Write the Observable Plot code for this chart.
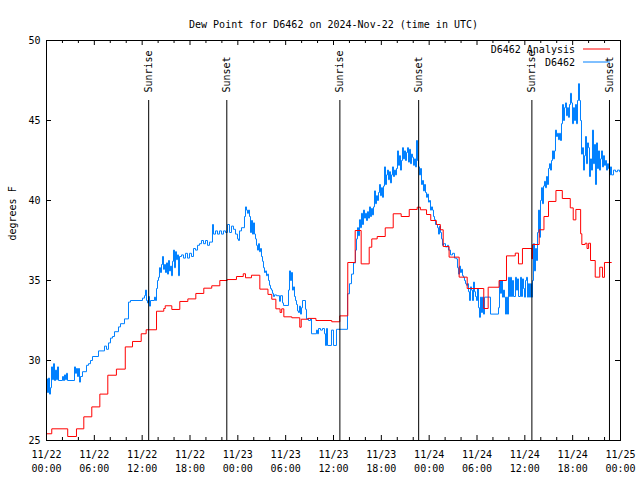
<!DOCTYPE html>
<html><head><meta charset="utf-8">
<script src="https://cdn.jsdelivr.net/npm/d3@7"></script>
<script src="https://cdn.jsdelivr.net/npm/@observablehq/plot@0.6"></script>
<style>
html,body{margin:0;padding:0;background:#fff;}
#chart{width:640px;height:480px;}
</style></head><body><div id="chart"></div>
<script>
const startTime = "2024-11-22T00:00:00Z";
const endTime = "2024-11-25T00:00:00Z";
const titleText = "Dew Point for D6462 on 2024-Nov-22 (time in UTC)";
const yLabelText = "degrees F";
const seriesNames = ["D6462 Analysis", "D6462"];
const seriesColors = ["#ff0000", "#0080ff"];
const yTicks = [25, 30, 35, 40, 45, 50];
const sunLabels = ["Sunrise", "Sunset", "Sunrise", "Sunset", "Sunrise", "Sunset"];
const sunTimes = ["2024-11-22T12:49:00Z", "2024-11-22T22:37:00Z", "2024-11-23T12:48:00Z",
  "2024-11-23T22:41:00Z", "2024-11-24T12:53:00Z", "2024-11-24T22:37:00Z"];

// Analysis (hours after start, deg F)
const analysisHours = [0, 0.66, 2.66, 3.76, 4.68, 5.68, 6.69, 7.69, 8.77, 9.88,
  10.79, 11.88, 12.5, 13.8, 14.71, 14.89, 15.72, 16.72, 17.73, 18.73,
  19.73, 20.73, 21.74, 22.66, 23.83, 24.68, 24.96, 25.71, 26.76, 27.78,
  28.26, 28.77, 29.3, 29.5, 29.77, 30.77, 31.77, 31.95, 32.8, 33.8,
  35.78, 36.79, 37.79, 38.72, 39.47, 40.48, 40.8, 41.48, 42.49, 43.49,
  44.49, 45.5, 46.5, 46.9, 47.67, 48.2, 48.9, 49.4, 49.76, 50.5,
  51.76, 52.77, 54.85, 55.4, 56.77, 57.7, 58.8, 59.2, 59.7, 60.88,
  60.96, 61.8, 62.4, 62.97, 63.9, 64.7, 65.7, 66.07, 66.4, 67.0,
  67.15, 67.57, 67.8, 68.0, 68.24, 68.83, 69.4, 69.74, 69.99, 70.87];
const analysisDew = [25.42, 25.73, 25.25, 25.73, 26.48, 27.1, 27.9, 29.08, 29.46, 30.85,
  31.19, 31.67, 31.92, 33.08, 33.25, 33.42, 33.19, 33.69, 33.85, 34.19,
  34.52, 34.67, 35.0, 35.06, 35.25, 35.42, 35.17, 35.33, 34.46, 34.13,
  33.83, 33.23, 33.0, 33.23, 32.73, 32.67, 32.08, 32.58, 32.63, 32.5,
  32.42, 32.79, 36.125, 38.125, 36.04, 37.08, 37.6, 37.75, 38.29, 39.17,
  39.0, 39.44, 39.58, 39.42, 39.125, 38.75, 38.5, 38.17, 37.125, 36.46,
  35.21, 34.5, 33.25, 34.58, 35.0, 36.54, 36.71, 36.04, 37.0, 36.35,
  37.25, 38.17, 39.0, 39.94, 40.625, 40.125, 39.54, 38.79, 39.44, 37.92,
  37.25, 37.33, 37.0, 37.33, 36.25, 35.21, 35.83, 35.2, 36.125, 36.125];

// Observations: report slot number on an ~7.5 minute reporting clock, deg F
const obsSlotMinutes = 7.526;
const obsSlots = [0,1,2,3,4,5,6,7,8,9,
  10,11,12,16,17,18,19,20,21,28,
  29,30,31,32,33,34,36,40,42,44,
  46,52,58,60,62,64,66,68,72,74,
  78,82,84,96,98,99,100,101,102,103,
  104,108,109,110,111,112,113,114,115,116,
  117,118,119,120,121,122,123,124,125,126,
  127,128,129,130,131,132,133,135,137,139,
  141,143,145,147,149,151,153,155,157,159,
  161,163,166,167,169,171,173,175,177,179,
  181,183,185,187,189,191,192,193,195,198,
  199,200,201,202,203,204,205,206,207,208,
  209,210,211,212,213,214,215,216,217,218,
  219,220,221,222,223,224,225,226,227,228,
  230,233,234,236,237,242,243,244,245,246,
  247,248,249,250,251,252,253,254,255,256,
  259,260,262,264,265,270,271,272,274,276,
  278,279,280,281,285,287,290,301,303,305,
  307,309,310,311,312,313,314,315,316,317,
  318,319,320,321,322,323,324,325,326,327,
  328,329,330,331,332,333,334,335,336,337,
  338,339,340,341,342,343,344,345,346,347,
  348,349,350,351,352,353,354,355,356,357,
  358,359,360,361,362,363,364,365,366,367,
  368,369,370,371,372,373,374,375,376,377,
  378,379,380,381,382,383,384,385,386,387,
  388,389,391,392,393,394,395,396,397,399,
  401,402,404,406,408,410,411,412,413,414,
  415,416,417,418,419,420,421,422,423,424,
  425,426,427,428,429,430,431,432,433,434,
  435,436,437,438,444,452,453,454,455,456,
  457,458,459,460,461,462,463,464,465,466,
  467,469,470,471,472,474,475,476,477,478,
  479,480,481,482,483,484,485,486,487,488,
  489,490,491,492,493,494,495,496,497,498,
  499,500,501,502,503,504,505,506,507,508,
  509,510,511,512,513,514,515,516,517,518,
  519,520,521,522,523,524,525,526,527,528,
  529,530,531,532,533,534,535,536,537,538,
  539,540,541,542,543,544,545,546,547,548,
  549,550,551,552,553,554,555,556,557,558,
  559,560,561,562,563,564,565,567,569,571,
  573,574];
const obsDew = [28.85,28.0,28.9,27.9,28.3,29.6,28.8,29.8,28.75,29.4,
  28.8,29.6,28.75,29.0,28.75,29.1,28.8,29.2,28.75,29.6,
  29.2,29.5,29.0,29.5,28.65,29.0,29.3,29.7,29.8,30.0,
  30.25,30.6,30.9,30.7,31.1,31.4,31.5,31.8,32.1,32.3,
  32.6,33.65,33.75,33.9,34.05,34.4,33.75,33.6,34.0,33.4,
  33.75,33.96,33.75,34.5,35.0,35.2,35.8,35.5,36.0,36.5,
  35.7,36.0,35.5,36.1,35.4,36.25,35.6,35.9,35.3,36.2,
  36.9,35.8,36.8,36.3,36.6,35.3,36.5,36.6,36.4,36.7,
  36.4,36.7,36.5,37.0,36.9,37.2,37.3,37.5,37.3,37.5,
  37.2,37.4,38.5,37.9,38.1,37.9,38.1,37.9,38.1,38.0,
  38.5,38.0,38.4,38.2,37.9,37.6,37.5,38.1,38.3,39.0,
  39.6,39.4,39.2,39.4,39.0,38.0,38.75,37.9,38.6,37.9,
  37.6,37.2,36.9,37.3,36.8,37.0,36.5,36.2,35.8,35.5,
  35.6,35.3,35.4,35.0,34.7,34.5,34.4,34.2,34.0,34.1,
  34.05,33.7,34.05,33.6,33.44,34.4,35.6,35.0,35.5,34.4,
  34.6,34.0,33.75,33.5,33.1,33.0,33.4,32.9,33.3,33.75,
  33.2,32.6,32.5,32.6,31.67,31.9,31.67,32.0,31.9,32.0,
  31.67,30.94,32.0,30.94,31.9,30.94,31.95,34.17,34.8,35.4,
  36.1,36.9,37.6,38.3,37.8,38.8,38.3,39.2,38.5,39.4,
  38.9,39.2,38.75,39.3,38.9,39.6,39.0,39.5,39.1,39.6,
  40.6,39.8,40.3,40.0,40.5,41.0,40.3,40.8,40.2,40.9,
  42.1,41.0,41.6,41.9,41.3,41.8,41.1,41.6,42.1,41.5,
  41.9,41.6,42.0,43.1,42.2,42.8,41.9,42.5,43.3,42.6,
  43.1,42.5,43.0,43.3,42.4,43.2,42.3,42.9,42.7,42.2,
  42.6,42.1,43.75,42.5,42.1,41.6,42.0,41.0,41.25,40.6,
  41.0,40.5,40.2,40.4,39.9,40.0,39.4,39.6,39.4,39.0,
  38.8,38.5,38.3,37.9,38.4,38.0,37.6,37.2,37.3,37.1,
  37.2,36.9,36.6,36.7,36.4,36.35,35.8,35.4,35.9,35.5,
  35.7,35.3,35.2,35.0,34.8,34.7,34.8,34.3,33.75,34.6,
  34.4,33.75,34.9,34.3,34.0,33.75,34.5,33.3,32.7,33.96,
  33.0,33.96,32.9,33.96,32.9,33.3,35.0,34.2,35.0,33.96,
  34.4,33.96,32.9,33.96,32.9,35.2,34.0,35.2,34.0,35.0,
  34.0,35.2,34.4,35.1,34.0,35.2,34.0,35.1,34.5,33.96,
  35.0,35.2,33.96,34.8,33.96,34.8,33.96,35.0,37.3,35.6,
  37.0,36.25,38.0,39.4,37.7,40.0,40.8,39.8,40.9,41.2,
  40.8,41.5,41.0,42.0,42.3,41.9,42.5,43.1,42.6,43.1,
  44.4,44.0,44.2,43.8,44.2,43.75,44.8,46.0,45.0,45.8,
  46.1,45.3,45.8,45.2,46.0,46.7,46.1,44.8,45.8,45.0,
  46.0,44.8,46.25,47.3,46.25,45.0,42.9,43.3,41.9,42.8,
  44.0,42.3,43.6,43.3,41.5,42.6,41.9,44.4,42.3,43.5,
  41.0,43.6,42.0,43.1,41.9,42.6,43.1,42.1,42.8,42.2,
  42.5,41.9,42.3,42.0,41.6,42.1,41.6,41.9,41.8,41.9,
  41.8,41.85];

const FONT = "'DejaVu Sans Mono', 'Liberation Mono', monospace";
const t0 = new Date(startTime);
const t1 = new Date(endTime);
const analysis = analysisHours.map((h, i) => ({time: new Date(+t0 + h * 3600000), dew: analysisDew[i]}));
const obs = obsSlots.map((s, i) => ({time: new Date(+t0 + s * obsSlotMinutes * 60000), dew: obsDew[i]}));
const sun = sunTimes.map((t, i) => ({time: new Date(t), label: sunLabels[i]}));
const majorTicks = d3.utcHour.every(6).range(t0, new Date(+t1 + 1));
const minorTicks = d3.utcHour.every(2).range(t0, new Date(+t1 + 1)).filter(d => d.getUTCHours() % 6 !== 0);
const fmt = d3.utcFormat("%m/%d\n%H:%M");

const W = 640, H = 480, ML = 46, MR = 20, MT = 40, MB = 40;
const FW = W - ML - MR, FH = H - MT - MB;

const chart = Plot.plot({
  width: W, height: H,
  marginLeft: ML, marginRight: MR, marginTop: MT, marginBottom: MB,
  style: {fontFamily: FONT, fontSize: "10px", color: "black", background: "white", overflow: "visible"},
  x: {type: "utc", domain: [t0, t1]},
  y: {domain: [25, 50]},
  marks: [
    Plot.line(obs, {x: "time", y: "dew", curve: "step-after", stroke: seriesColors[1], strokeWidth: 1}),
    Plot.line(analysis, {x: "time", y: "dew", curve: "step-after", stroke: seriesColors[0], strokeWidth: 1}),
    Plot.ruleX(sun, {x: "time", insetTop: 60, stroke: "black", strokeWidth: 1}),
    Plot.text(sun, {x: "time", text: "label", frameAnchor: "top", dy: 52, rotate: -90, textAnchor: "start", lineAnchor: "middle", fill: "black"}),
    Plot.ruleX(majorTicks, {insetTop: FH - 5, stroke: "black"}),
    Plot.ruleX(majorTicks, {insetBottom: FH - 5, stroke: "black"}),
    Plot.ruleX(minorTicks, {insetTop: FH - 3, stroke: "black"}),
    Plot.ruleX(minorTicks, {insetBottom: FH - 3, stroke: "black"}),
    Plot.ruleY(yTicks, {insetRight: FW - 5, stroke: "black"}),
    Plot.ruleY(yTicks, {insetLeft: FW - 5, stroke: "black"}),
    Plot.frame({stroke: "black", strokeWidth: 1}),
    Plot.axisX(majorTicks, {anchor: "bottom", tickSize: 0, tickPadding: 8, tickFormat: fmt, lineHeight: 1.4, label: null}),
    Plot.axisY(yTicks, {anchor: "left", tickSize: 0, tickPadding: 6, label: null}),
    Plot.text([titleText], {frameAnchor: "top", dy: -20, fill: "black"}),
    Plot.text([yLabelText], {frameAnchor: "left", dx: -34, rotate: -90, fill: "black"})
  ]
});

document.getElementById("chart").appendChild(chart);
const svg = d3.select(chart.tagName.toLowerCase() === "svg" ? chart : chart.querySelector("svg"));
const leg = svg.append("g").attr("font-family", FONT).attr("font-size", 10);
seriesNames.forEach((name, i) => {
  const y = MT + 10 + i * 13;
  const xr = W - MR;
  leg.append("text").attr("x", xr - 45).attr("y", y).attr("dy", "0.32em")
    .attr("text-anchor", "end").attr("fill", "black").text(name);
  leg.append("line").attr("x1", xr - 37).attr("x2", xr - 10).attr("y1", y - 1).attr("y2", y - 1)
    .attr("stroke", seriesColors[i]).attr("stroke-width", 1);
});
</script>
</body></html>
